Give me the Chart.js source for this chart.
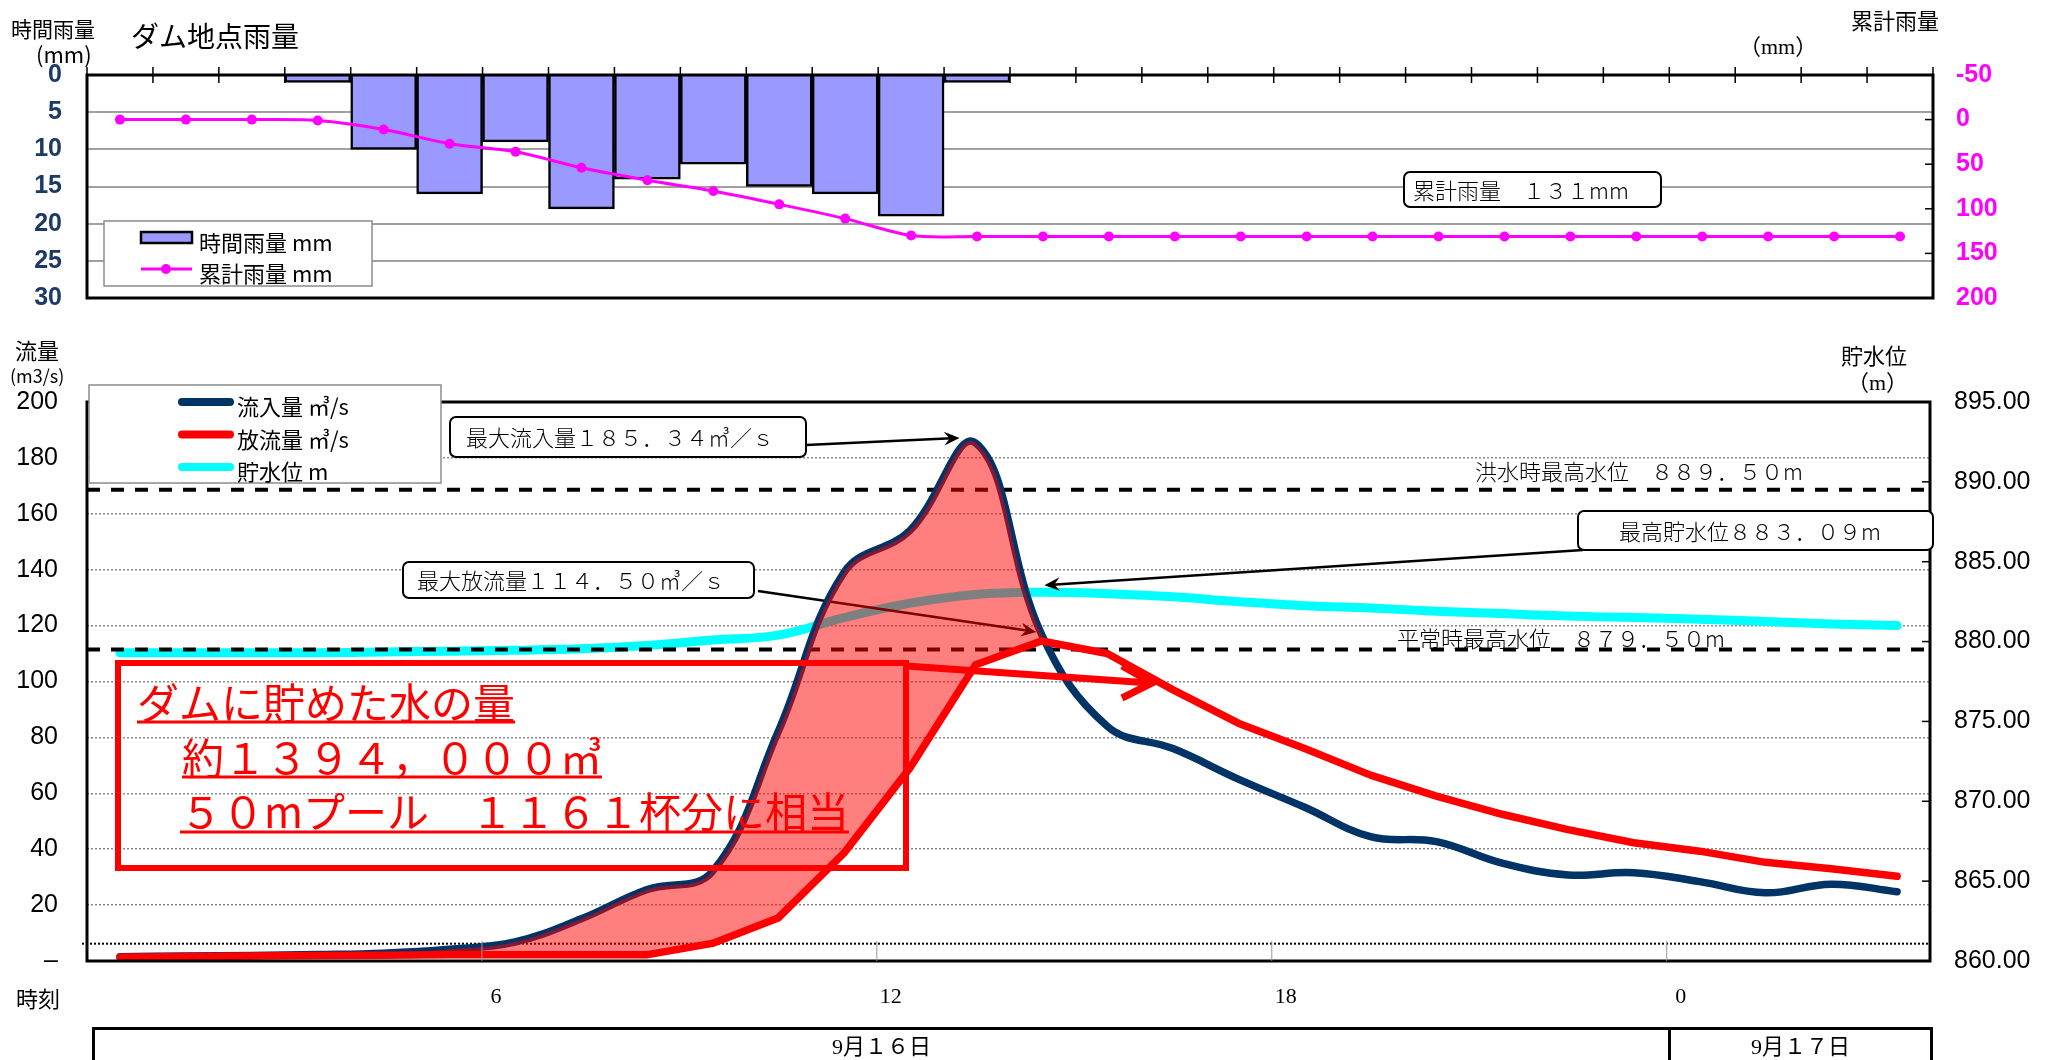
<!DOCTYPE html>
<html lang="ja">
<head>
<meta charset="utf-8">
<title>ダム地点雨量</title>
<script src="https://cdn.jsdelivr.net/npm/chart.js@4.4.1/dist/chart.umd.min.js"></script>
<style>
    body { margin: 0; width: 2051px; height: 1060px; background: #fff; overflow: hidden; position: relative;
           font-family: "Noto Sans CJK JP", sans-serif; }
    canvas { position: absolute; left: 0; top: 0; }
    .t { position: absolute; white-space: nowrap; line-height: 1; color: #000; }
    .serif { font-family: "Liberation Serif", "Noto Sans CJK JP", serif; }
    .dateBox { position: absolute; top: 1027px; height: 60px; border: 3px solid #000; box-sizing: border-box;
               text-align: center; font-size: 22px; line-height: 34px; }
</style>
</head>
<body>
<canvas id="rainChart" width="2051" height="1060"></canvas>
<canvas id="flowChart" width="2051" height="1060"></canvas>

<div class="t" style="left:11px;top:18px;font-size:21px">時間雨量</div>
<div class="t" style="left:36px;top:42px;font-size:22px">(mm)</div>
<div class="t" style="left:131px;top:21px;font-size:28px">ダム地点雨量</div>
<div class="t" style="left:1851px;top:8px;font-size:22px">累計雨量</div>
<div class="t serif" style="left:1739px;top:36px;font-size:22px">（mm）</div>

<div class="t" style="left:15px;top:338px;font-size:22px">流量</div>
<div class="t" style="left:10px;top:366px;font-size:18px">(m3/s)</div>
<div class="t" style="left:1841px;top:343px;font-size:22px">貯水位</div>
<div class="t serif" style="left:1847px;top:372px;font-size:22px">（m）</div>
<div class="t" style="left:16px;top:986px;font-size:22px">時刻</div>

<div class="dateBox serif" style="left:92px;width:1579px">9月１６日</div>
<div class="dateBox serif" style="left:1668px;width:265px">9月１７日</div>

<script>
// hourly categories, 9/16 1:00 ... 9/17 4:00
const hours = ['1', '2', '3', '4', '5', '6', '7', '8', '9', '10', '11', '12', '13', '14',
    '15', '16', '17', '18', '19', '20', '21', '22', '23', '24', '1', '2', '3', '4'];

const hourlyRain = [0, 0, 0, 1, 10, 16, 9, 18, 14, 12, 15, 16, 19, 1,
    0, 0, 0, 0, 0, 0, 0, 0, 0, 0, 0, 0, 0, 0];
const cumulativeRain = [0, 0, 0, 1, 11, 27, 36, 54, 68, 80, 95, 111, 130, 131,
    131, 131, 131, 131, 131, 131, 131, 131, 131, 131, 131, 131, 131, 131];

const inflow = [1.5, 1.8, 2.0, 2.3, 2.8, 4.2, 6.8, 15, 25.5, 32, 82, 139, 154, 185.34,
    117, 84, 76, 65, 55, 44.5, 42.7, 35, 30.8, 31.6, 28.4, 24.4, 27.5, 24.8];
const outflow = [1.3, 1.6, 1.8, 2.0, 2.1, 2.2, 2.2, 2.2, 2.2, 6.3, 15.4, 38.6, 69, 106,
    114.5, 110, 97, 85, 76, 66.5, 59, 52.5, 47, 42.3, 39.3, 35.3, 33, 30.3];
const waterLevel = [879.3, 879.3, 879.3, 879.3, 879.35, 879.4, 879.45, 879.55, 879.75, 880.1, 880.4, 881.5, 882.4, 882.95,
    883.09, 883.0, 882.8, 882.5, 882.25, 882.1, 881.9, 881.75, 881.6, 881.5, 881.4, 881.25, 881.1, 881.0];

const floodWaterLevel = 889.5;   // 洪水時最高水位
const normalWaterLevel = 879.5;  // 平常時最高水位
const lowFlowLine = 6.2;

const timeTickHours = [6, 12, 18, 24];
const timeTickLabels = ['6', '12', '18', '0'];

const storageText = ['ダムに貯めた水の量', '約１３９４，０００㎥', '５０mプール　１１６１杯分に相当'];

Chart.defaults.font.family = '"Liberation Sans", Arial, sans-serif';

const GOTHIC = '"Noto Sans CJK JP", sans-serif';

// half width digits -> full width, like the labels in the original
const zen = s => String(s).replace(/[0-9.,]/g, c =>
    c === '.' ? '．' : c === ',' ? '，' : String.fromCharCode(c.charCodeAt(0) + 0xFEE0));

function line(ctx, x1, y1, x2, y2) {
    ctx.beginPath();
    ctx.moveTo(x1, y1);
    ctx.lineTo(x2, y2);
    ctx.stroke();
}

function roundBox(ctx, x, y, w, h, r) {
    ctx.beginPath();
    ctx.roundRect(x, y, w, h, r);
    ctx.fillStyle = '#fff';
    ctx.fill();
    ctx.strokeStyle = '#000';
    ctx.lineWidth = 2;
    ctx.stroke();
}

function arrow(ctx, x1, y1, x2, y2) {
    ctx.strokeStyle = '#000';
    ctx.fillStyle = '#000';
    ctx.lineWidth = 2.5;
    const ang = Math.atan2(y2 - y1, x2 - x1);
    line(ctx, x1, y1, x2 - 8 * Math.cos(ang), y2 - 8 * Math.sin(ang));
    ctx.beginPath();
    ctx.moveTo(x2, y2);
    ctx.lineTo(x2 - 17 * Math.cos(ang - 0.42), y2 - 17 * Math.sin(ang - 0.42));
    ctx.lineTo(x2 - 10 * Math.cos(ang), y2 - 10 * Math.sin(ang));
    ctx.lineTo(x2 - 17 * Math.cos(ang + 0.42), y2 - 17 * Math.sin(ang + 0.42));
    ctx.closePath();
    ctx.fill();
}

function inwardTicks(ctx, scale, area) {
    ctx.strokeStyle = '#000';
    ctx.lineWidth = 1.5;
    scale.ticks.forEach(t => {
        const py = scale.getPixelForValue(t.value);
        line(ctx, area.right - 8, py, area.right, py);
    });
}

const rainDecor = {
    id: 'rainDecor',
    afterDatasetsDraw(chart) {
        const {ctx, chartArea: a, scales} = chart;
        ctx.save();
        ctx.strokeStyle = '#000';
        ctx.lineWidth = 3;
        ctx.strokeRect(a.left, a.top, a.right - a.left, a.bottom - a.top);

        // hour ticks across the top edge
        const x = scales.x;
        const half = (x.getPixelForValue(1) - x.getPixelForValue(0)) / 2;
        ctx.lineWidth = 1.5;
        for (let k = 0; k <= hours.length; k++) {
            const px = x.getPixelForValue(k) - half;
            line(ctx, px, a.top - 8, px, a.top + 8);
        }
        inwardTicks(ctx, scales.yCum, a);

        // legend
        ctx.fillStyle = '#fff';
        ctx.fillRect(104, 221, 268, 65);
        ctx.strokeStyle = '#8c8c8c';
        ctx.lineWidth = 1.5;
        ctx.strokeRect(104, 221, 268, 65);
        const bars = chart.data.datasets[1], cum = chart.data.datasets[0];
        ctx.fillStyle = bars.backgroundColor;
        ctx.fillRect(141, 232, 51, 11);
        ctx.strokeStyle = '#000';
        ctx.lineWidth = 2.5;
        ctx.strokeRect(141, 232, 51, 11);
        ctx.strokeStyle = cum.borderColor;
        ctx.lineWidth = 3;
        line(ctx, 141, 269, 192, 269);
        ctx.fillStyle = cum.borderColor;
        ctx.beginPath();
        ctx.arc(166, 269, 5, 0, Math.PI * 2);
        ctx.fill();
        ctx.fillStyle = '#000';
        ctx.font = '22px ' + GOTHIC;
        ctx.textBaseline = 'middle';
        ctx.fillText(bars.label, 199, 243);
        ctx.fillText(cum.label, 199, 274);

        // total rainfall box
        roundBox(ctx, 1404, 172, 257, 35, 6);
        ctx.fillStyle = '#000';
        ctx.font = '300 22px ' + GOTHIC;
        ctx.fillText('累計雨量　' + zen(cumulativeRain[cumulativeRain.length - 1]) + 'mm', 1413, 191);
        ctx.restore();
    }
};

new Chart(document.getElementById('rainChart'), {
    data: {
        labels: hours,
        datasets: [{
            type: 'line',
            label: '累計雨量 mm',
            data: cumulativeRain,
            yAxisID: 'yCum',
            borderColor: '#ff00ff',
            backgroundColor: '#ff00ff',
            borderWidth: 3,
            pointRadius: 5,
            pointBorderWidth: 0,
            pointBackgroundColor: '#ff00ff',
            tension: 0.3,
            order: 1
        }, {
            type: 'bar',
            label: '時間雨量 mm',
            data: hourlyRain,
            yAxisID: 'yRain',
            backgroundColor: '#9999ff',
            borderColor: '#000',
            borderWidth: 2.5,
            barPercentage: 1,
            categoryPercentage: 1,
            order: 2
        }]
    },
    options: {
        responsive: false,
        animation: false,
        devicePixelRatio: 1,
        layout: {padding: {top: 75, bottom: 1060 - 298, left: 0, right: 0}},
        plugins: {legend: {display: false}, tooltip: {enabled: false}},
        scales: {
            x: {display: false, offset: true},
            yRain: {
                position: 'left', reverse: true, min: 0, max: 30,
                ticks: {stepSize: 5, padding: 25, color: '#1c3a66', font: {size: 25, weight: 'bold'}},
                grid: {color: '#a0a0a0', lineWidth: 2, drawTicks: false},
                border: {display: false},
                afterFit(s) { s.width = 87; }
            },
            yCum: {
                position: 'right', reverse: true, min: -50, max: 200,
                ticks: {stepSize: 50, padding: 23, color: '#ff00ff', font: {size: 25, weight: 'bold'}},
                grid: {drawOnChartArea: false, drawTicks: false},
                border: {display: false},
                afterFit(s) { s.width = 2051 - 1933; }
            }
        }
    },
    plugins: [rainDecor]
});

const flowDecor = {
    id: 'flowDecor',
    // drawn just after the water level line, so inflow/outflow and the fill go over it
    afterDatasetDraw(chart, args) {
        if (args.index !== 0) return;
        const {ctx, chartArea: a, scales} = chart;
        const yF = scales.yFlow, yL = scales.yLevel, x = scales.x;
        ctx.save();
        ctx.strokeStyle = '#000';
        ctx.lineWidth = 4;
        ctx.setLineDash([13, 11]);
        [floodWaterLevel, normalWaterLevel].forEach(v => {
            const py = yL.getPixelForValue(v);
            line(ctx, a.left, py, a.right, py);
        });
        ctx.lineWidth = 2;
        ctx.setLineDash([2, 2]);
        const pl = yF.getPixelForValue(lowFlowLine);
        line(ctx, a.left - 5, pl, a.right, pl);
        ctx.setLineDash([]);

        const iIn = inflow.indexOf(Math.max(...inflow));
        const iOut = outflow.indexOf(Math.max(...outflow));
        const iLv = waterLevel.indexOf(Math.max(...waterLevel));
        arrow(ctx, 806, 445, x.getPixelForValue(iIn) - 16, yF.getPixelForValue(inflow[iIn]) - 5);
        arrow(ctx, 758, 591, x.getPixelForValue(iOut) - 5, yF.getPixelForValue(outflow[iOut]) - 9);
        arrow(ctx, 1583, 550, x.getPixelForValue(iLv) + 3, yL.getPixelForValue(waterLevel[iLv]) - 7);
        ctx.restore();
    },
    afterDatasetsDraw(chart) {
        const {ctx, chartArea: a, scales} = chart;
        const yL = scales.yLevel, xt = scales.xt;
        ctx.save();

        // storage annotation
        ctx.strokeStyle = '#ff0000';
        ctx.lineWidth = 6;
        ctx.strokeRect(118, 663, 788, 205);
        ctx.lineWidth = 7;
        line(ctx, 906, 666, 1150, 683);
        ctx.beginPath();
        ctx.moveTo(1122, 666);
        ctx.lineTo(1152, 683);
        ctx.lineTo(1122, 698);
        ctx.stroke();
        ctx.fillStyle = '#ff0000';
        ctx.font = '42px ' + GOTHIC;
        ctx.textBaseline = 'middle';
        ctx.lineWidth = 3;
        [[137, 703, 722], [182, 758, 777], [180, 812, 832]].forEach((p, i) => {
            ctx.fillText(storageText[i], p[0], p[1]);
            line(ctx, p[0], p[2], p[0] + ctx.measureText(storageText[i]).width, p[2]);
        });

        // frame and ticks
        ctx.strokeStyle = '#000';
        ctx.lineWidth = 3;
        ctx.strokeRect(a.left, a.top, a.right - a.left, a.bottom - a.top);
        inwardTicks(ctx, yL, a);
        ctx.strokeStyle = '#999';
        ctx.lineWidth = 1;
        timeTickHours.forEach(h => {
            const px = xt.getPixelForValue(h);
            line(ctx, px, a.bottom - 20, px, a.bottom);
        });

        // level labels
        ctx.fillStyle = '#000';
        ctx.font = '300 22px ' + GOTHIC;
        ctx.fillText('洪水時最高水位　' + zen(floodWaterLevel.toFixed(2)) + 'm', 1475, yL.getPixelForValue(floodWaterLevel) - 18);
        ctx.fillText('平常時最高水位　' + zen(normalWaterLevel.toFixed(2)) + 'm', 1397, yL.getPixelForValue(normalWaterLevel) - 11);

        // value boxes
        roundBox(ctx, 450, 417, 356, 40, 6);
        roundBox(ctx, 403, 562, 351, 36, 6);
        roundBox(ctx, 1578, 511, 355, 39, 6);
        ctx.fillStyle = '#000';
        ctx.fillText('最大流入量' + zen(Math.max(...inflow).toFixed(2)) + '㎥／ｓ', 466, 438);
        ctx.fillText('最大放流量' + zen(Math.max(...outflow).toFixed(2)) + '㎥／ｓ', 417, 581);
        ctx.fillText('最高貯水位' + zen(Math.max(...waterLevel).toFixed(2)) + 'm', 1619, 532);

        // legend
        ctx.fillStyle = '#fff';
        ctx.fillRect(89, 385, 352, 98);
        ctx.strokeStyle = '#8c8c8c';
        ctx.lineWidth = 1.5;
        ctx.strokeRect(89, 385, 352, 98);
        const ds = chart.data.datasets;
        [ds[1], ds[2], ds[0]].forEach((d, i) => {
            const ly = 402 + i * 32.5;
            ctx.strokeStyle = d.borderColor;
            ctx.lineWidth = 8;
            ctx.lineCap = 'round';
            line(ctx, 182, ly, 230, ly);
            ctx.fillStyle = '#000';
            ctx.font = '22px ' + GOTHIC;
            ctx.fillText(d.label, 237, ly + 5);
        });
        ctx.restore();
    }
};

new Chart(document.getElementById('flowChart'), {
    type: 'line',
    data: {
        labels: hours,
        datasets: [{
            label: '貯水位 m',
            data: waterLevel,
            yAxisID: 'yLevel',
            borderColor: '#00ffff',
            borderWidth: 9,
            tension: 0.4,
            pointRadius: 0,
            borderCapStyle: 'round',
            order: 3
        }, {
            label: '流入量 ㎥/s',
            data: inflow,
            yAxisID: 'yFlow',
            borderColor: '#003366',
            borderWidth: 7.5,
            tension: 0.4,
            pointRadius: 0,
            borderCapStyle: 'round',
            order: 2
        }, {
            label: '放流量 ㎥/s',
            data: outflow,
            yAxisID: 'yFlow',
            borderColor: '#ff0000',
            borderWidth: 7.5,
            tension: 0,
            pointRadius: 0,
            borderCapStyle: 'round',
            borderJoinStyle: 'round',
            order: 1
        }, {
            // stored water: area between inflow and outflow, drawn on top
            label: '',
            data: inflow,
            yAxisID: 'yFlow',
            borderWidth: 0,
            borderColor: 'rgba(0,0,0,0)',
            tension: 0.4,
            pointRadius: 0,
            fill: {target: 2, above: 'rgba(255,0,0,0.5)', below: 'rgba(0,0,0,0)'},
            order: 0
        }]
    },
    options: {
        responsive: false,
        animation: false,
        devicePixelRatio: 1,
        layout: {padding: {top: 402, bottom: 0, left: 0, right: 0}},
        plugins: {legend: {display: false}, tooltip: {enabled: false}},
        scales: {
            x: {display: false, offset: true},
            xt: {
                type: 'linear', position: 'bottom', min: 0, max: hours.length,
                afterBuildTicks(s) { s.ticks = timeTickHours.map(v => ({value: v})); },
                ticks: {
                    autoSkip: false, labelOffset: 14, padding: 23, color: '#000',
                    font: {family: '"Liberation Serif", serif', size: 22},
                    callback: (v, i) => timeTickLabels[i]
                },
                grid: {display: false, drawTicks: false},
                border: {display: false},
                afterFit(s) { s.height = 99; }
            },
            yFlow: {
                position: 'left', min: 0, max: 200,
                ticks: {stepSize: 20, padding: 29, color: '#000', font: {size: 25},
                    callback: v => v === 0 ? '–' : v},
                grid: {color: '#8a8a8a', lineWidth: 1.5, drawTicks: false},
                border: {display: false, dash: [2, 2]},
                afterFit(s) { s.width = 87; }
            },
            yLevel: {
                position: 'right', min: 860, max: 895,
                ticks: {stepSize: 5, padding: 24, color: '#000', font: {size: 25},
                    callback: v => v.toFixed(2)},
                grid: {drawOnChartArea: false, drawTicks: false},
                border: {display: false},
                afterFit(s) { s.width = 121; }
            }
        }
    },
    plugins: [flowDecor]
});
</script>
</body>
</html>
